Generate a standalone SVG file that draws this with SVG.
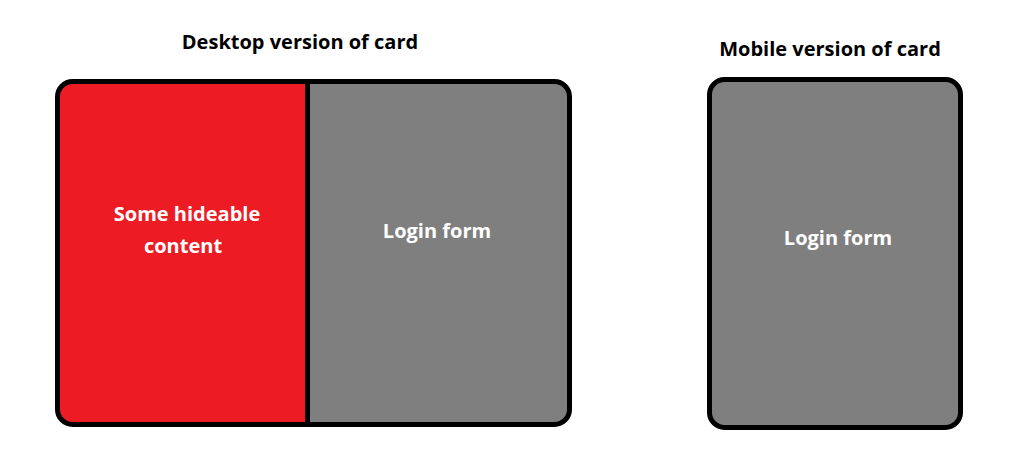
<svg xmlns="http://www.w3.org/2000/svg" width="1015" height="454" viewBox="0 0 1015 454">
<style>
.t{font-family:"Open Sans","Liberation Sans",sans-serif;font-weight:bold;font-size:20px;text-anchor:middle}
.w{fill:#fff}
.b{stroke:#000;stroke-width:5}
</style>
<rect width="1015" height="454" fill="#fff"/>
<text class="t" x="300" y="49">Desktop version of card</text>
<text class="t" x="830" y="56">Mobile version of card</text>
<g id="desktop-card">
<path d="M307.5 81.5 H72.5 Q57.5 81.5 57.5 96.5 V409.5 Q57.5 424.5 72.5 424.5 H307.5 Z" fill="#ed1c24"/>
<path d="M307.5 81.5 H554.5 Q569.5 81.5 569.5 96.5 V409.5 Q569.5 424.5 554.5 424.5 H307.5 Z" fill="#7f7f7f"/>
<rect class="b" x="57.5" y="81.5" width="512" height="343" rx="15" fill="none"/>
<line class="b" x1="307.5" y1="81.5" x2="307.5" y2="424.5"/>
<text class="t w" x="187" y="221">Some hideable</text>
<text class="t w" x="183" y="253">content</text>
<text class="t w" x="437" y="238">Login form</text>
</g>
<g id="mobile-card">
<rect class="b" x="709.5" y="79.5" width="251" height="348" rx="15" fill="#7f7f7f"/>
<text class="t w" x="838" y="245">Login form</text>
</g>
<g id="connectors"/>
</svg>
